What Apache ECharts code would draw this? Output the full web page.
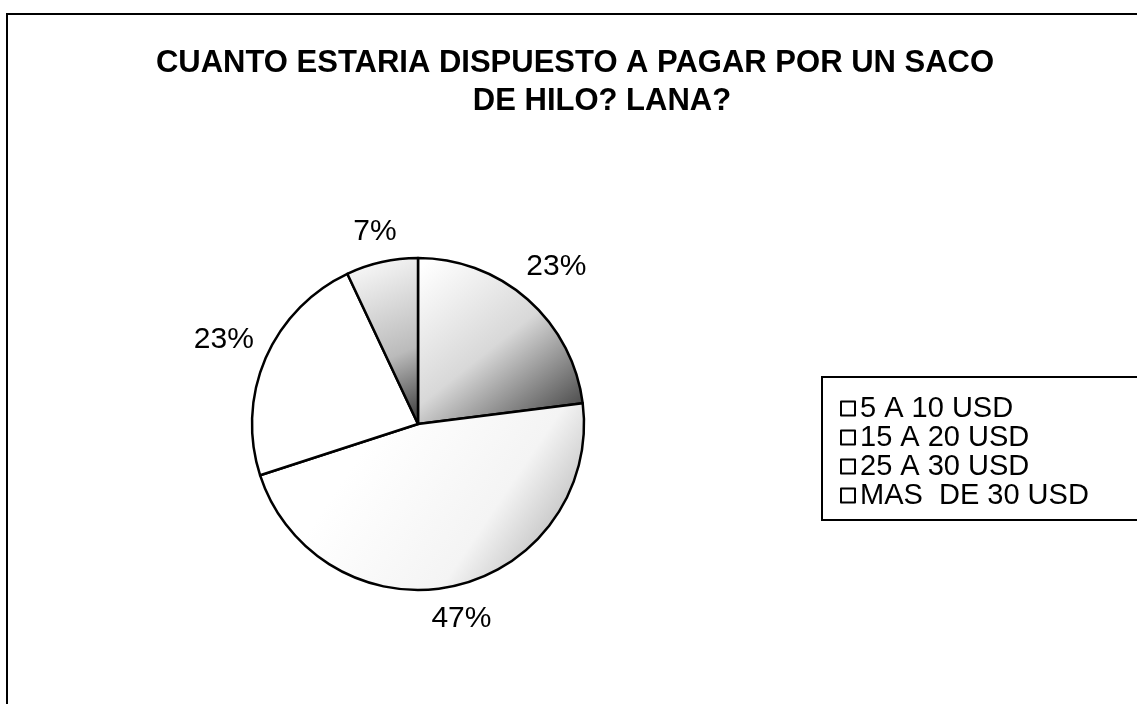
<!DOCTYPE html>
<html>
<head>
<meta charset="utf-8">
<title>CUANTO ESTARIA DISPUESTO A PAGAR</title>
<script src="https://cdn.jsdelivr.net/npm/echarts@6/dist/echarts.min.js"></script>
<style>
  html, body { margin: 0; padding: 0; background: #fff; }
  #chartBox { width: 1137px; height: 704px; }
</style>
</head>
<body>
<div id="chartBox"></div>
<script>
// datos del grafico
var categorias = ["5 A 10 USD", "15 A 20 USD", "25 A 30 USD", "MAS  DE 30 USD"];
var valores = [23, 47, 23, 7];
var etiquetas = ["23%", "47%", "23%", "7%"];
var tituloLineas = ["CUANTO ESTARIA DISPUESTO A PAGAR POR UN SACO", "DE HILO? LANA?"];

// relleno punteado de cada porcion (imitando el gris de la copia)
var rellenos = [
  { type: "linear", x: 0.1, y: 0, x2: 0.9, y2: 1,
    colorStops: [{ offset: 0, color: "#ffffff" }, { offset: 0.5, color: "#d8d8d8" }, { offset: 1, color: "#444444" }] },
  { type: "linear", x: 0.3, y: 0.3, x2: 0.9, y2: 1,
    colorStops: [{ offset: 0, color: "#ffffff" }, { offset: 0.6, color: "#f4f4f4" }, { offset: 1, color: "#b0b0b0" }] },
  "#ffffff",
  { type: "linear", x: 0, y: 0, x2: 1, y2: 1,
    colorStops: [{ offset: 0, color: "#ffffff" }, { offset: 0.6, color: "#bbbbbb" }, { offset: 1, color: "#333333" }] }
];

var centro = [418, 424];
var radio = 166;
var total = valores.reduce(function (a, b) { return a + b; }, 0);

var datos = categorias.map(function (c, i) {
  return { name: c, value: valores[i], itemStyle: { color: rellenos[i] } };
});

var myChart = echarts.init(document.getElementById("chartBox"));

var option = {
  backgroundColor: "#ffffff",
  animation: false,
  title: [
    {
      text: tituloLineas[0],
      left: 570,
      top: 43,
      textAlign: "center",
      textStyle: { fontFamily: "Liberation Sans, Arial", fontSize: 31, fontWeight: "bold", color: "#000" }
    },
    {
      text: tituloLineas[1],
      left: 597,
      top: 81,
      textAlign: "center",
      textStyle: { fontFamily: "Liberation Sans, Arial", fontSize: 31, fontWeight: "bold", color: "#000" }
    }
  ],
  legend: {
    orient: "vertical",
    left: 822,
    top: 377,
    padding: [17, 60, 10, 18],
    itemGap: 0,
    itemWidth: 14,
    itemHeight: 14,
    icon: "rect",
    borderColor: "#000",
    borderWidth: 2,
    itemStyle: { color: "#ffffff", borderColor: "#000", borderWidth: 2 },
    textStyle: { fontFamily: "Liberation Sans, Arial", fontSize: 29, color: "#000", padding: [0, 0, 0, 0] },
    data: categorias
  },
  graphic: [
    {
      // marco del area del grafico
      type: "rect",
      shape: { x: 7, y: 14, width: 1160, height: 720 },
      style: { fill: "none", stroke: "#000", lineWidth: 2 },
      silent: true
    }
  ],
  series: [
    {
      name: "Precio",
      type: "pie",
      center: centro,
      radius: radio,
      startAngle: 90,
      clockwise: true,
      avoidLabelOverlap: false,
      itemStyle: { borderColor: "#000", borderWidth: 2.5 },
      label: {
        show: true,
        position: "outside",
        fontFamily: "Liberation Sans, Arial",
        fontSize: 30,
        color: "#000",
        formatter: function (p) { return etiquetas[p.dataIndex]; }
      },
      labelLine: { show: false },
      labelLayout: function (p) {
        // etiqueta centrada sobre el radio medio de cada porcion
        var i = p.dataIndex;
        var acum = 0;
        for (var k = 0; k < i; k++) acum += valores[k];
        var ang = (acum + valores[i] / 2) / total * Math.PI * 2;
        var s = Math.sin(ang), c = Math.cos(ang);
        var w = p.labelRect.width, h = p.labelRect.height;
        var d = radio + 12 + Math.abs(s) * w / 2 + Math.abs(c) * h / 2;
        return {
          x: centro[0] + d * s,
          y: centro[1] - d * c,
          align: "center",
          verticalAlign: "middle"
        };
      },
      emphasis: { disabled: true },
      data: datos
    }
  ]
};

myChart.setOption(option);
window.addEventListener("resize", function () {
  myChart.resize();
});
</script>
</body>
</html>
